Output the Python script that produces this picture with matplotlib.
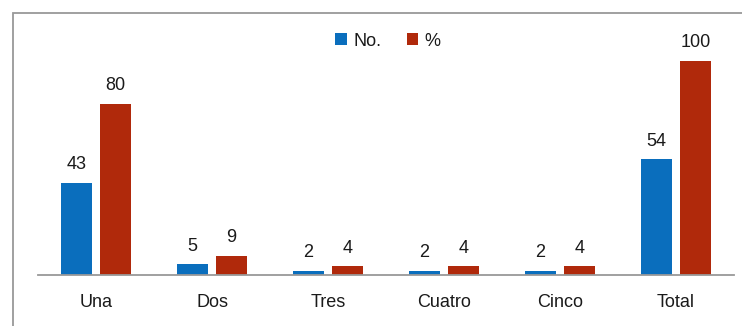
import matplotlib
matplotlib.use("Agg")
import matplotlib.pyplot as plt
from matplotlib.patches import Rectangle
import numpy as np

categories = ["Una", "Dos", "Tres", "Cuatro", "Cinco", "Total"]
count_values = [43, 5, 2, 2, 2, 54]
pct_values = [80, 9, 4, 4, 4, 100]
series_names = ["No.", "%"]

blue = "#0A6EBD"
red = "#B0290B"
gray = "#999999"
text_color = "#1a1a1a"
fs = 13

plt.rcParams["font.family"] = ["Liberation Sans", "DejaVu Sans"]

W, H = 742, 326
fig = plt.figure(figsize=(W / 100, H / 100), dpi=100)

# outer frame of the chart area
fig.patches.append(Rectangle((13 / W, -0.1), 2.0, (H - 13) / H + 0.1,
                             transform=fig.transFigure, fill=False,
                             edgecolor=gray, linewidth=1.3))

y_base = 275
y_top = 20
ax = fig.add_axes([38 / W, (H - y_base) / H, (734 - 38) / W, (y_base - y_top) / H])
ymax = 100 * (y_base - y_top) / (y_base - 61)
ax.set_ylim(0, ymax)
ax.set_xlim(-0.5, len(categories) - 0.5)

x = np.arange(len(categories))
bw = 0.267
off = 0.168
b1 = ax.bar(x - off, count_values, bw, color=blue, label=series_names[0])
b2 = ax.bar(x + off, pct_values, bw, color=red, label=series_names[1])

for bars, vals in ((b1, count_values), (b2, pct_values)):
    for rect, v in zip(bars, vals):
        ax.annotate(f"{v}", (rect.get_x() + rect.get_width() / 2, v),
                    xytext=(0, 7), textcoords="offset points",
                    ha="center", va="bottom", fontsize=fs, color=text_color)

for s in ("top", "right", "left"):
    ax.spines[s].set_visible(False)
ax.spines["bottom"].set_color(gray)
ax.spines["bottom"].set_linewidth(1.3)
ax.set_yticks([])
ax.set_xticks(x)
ax.set_xticklabels(categories, fontsize=fs, color=text_color)
ax.tick_params(axis="x", length=0, pad=13.5)
ax.patch.set_alpha(0)

leg = fig.legend(loc="center", bbox_to_anchor=(388 / W, (H - 41) / H), ncol=2,
                 frameon=False, fontsize=fs, handlelength=0.65, handleheight=0.65,
                 columnspacing=1.4, handletextpad=0.35)
for t in leg.get_texts():
    t.set_color(text_color)

fig.savefig("out.png", dpi=100)
